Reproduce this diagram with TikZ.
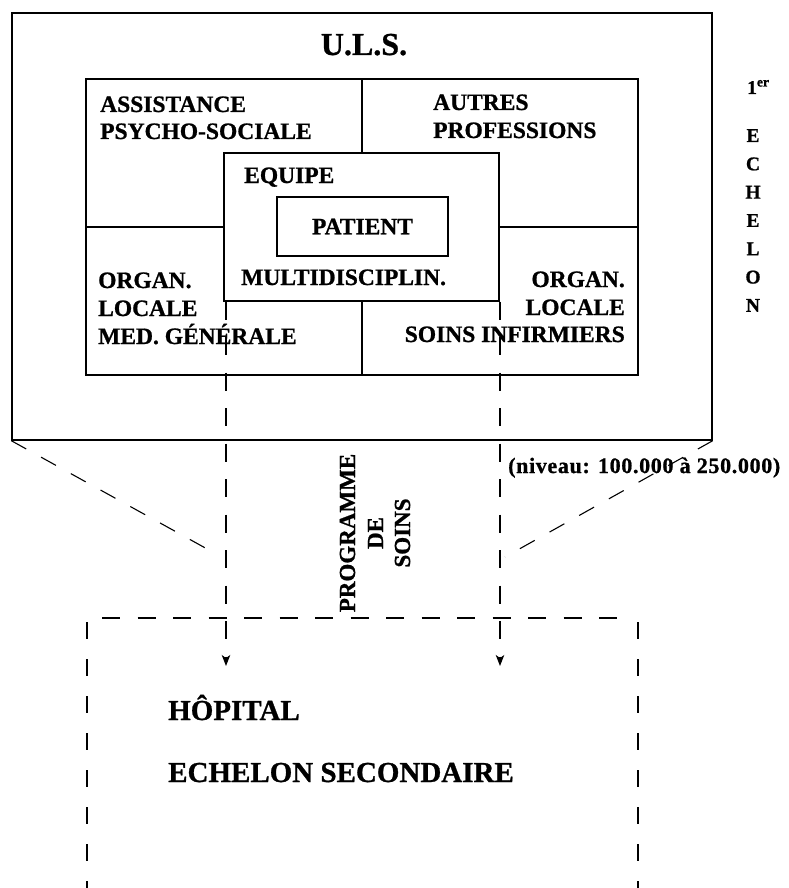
\documentclass[tikz,border=0pt]{standalone}
\usepackage{fontspec}
\setmainfont[BoldFeatures={FakeBold=0.9}]{Liberation Serif}
\usetikzlibrary{arrows.meta}
\begin{document}
\begin{tikzpicture}[x=1pt,y=-1pt,
  box/.style={draw, line width=1.4pt, inner sep=0pt, rectangle},
  lbl/.style={inner sep=0pt, font=\bfseries\fontsize{23.5}{28}\selectfont},
  title/.style={inner sep=0pt, font=\bfseries\fontsize{32}{36}\selectfont},
  side/.style={inner sep=0pt, font=\bfseries\fontsize{19.5}{22}\selectfont},
  note/.style={inner sep=0pt, font=\bfseries\fontsize{22}{24}\selectfont},
  rot/.style={inner sep=0pt, rotate=90, font=\bfseries\fontsize{23}{26}\selectfont},
  big/.style={inner sep=0pt, font=\bfseries\fontsize{29}{32}\selectfont},
  dline/.style={line width=1.1pt, dash pattern=on 18pt off 17.5pt},
  dline2/.style={line width=1.1pt, dash pattern=on 17pt off 17pt},
  dline3/.style={line width=1.1pt, dash pattern=on 18pt off 17.5pt},
  dline4/.style={line width=1.1pt, dash pattern=on 17pt off 20pt},
  tip/.style={-{Stealth[length=11pt, width=8.5pt, inset=3pt]}}
]
\useasboundingbox (0,0) rectangle (788,888);

% boxes
\node[box, minimum width=700pt, minimum height=427pt] (uls) at (362,226.5) {};
\node[box, minimum width=552pt, minimum height=296pt] (grid) at (362,227) {};
\draw[line width=1.4pt] (grid.north) -- (grid.south);
\draw[line width=1.4pt] (grid.west) -- (grid.east);
\node[box, fill=white, minimum width=275pt, minimum height=148pt] (equipe) at (361.5,227) {};
\node[box, minimum width=171pt, minimum height=59pt] (patient) at (362.5,226.5) {};

% texts
\node[title, anchor=base] (tuls) at (364,55) {U.L.S.};
\node[lbl, anchor=base west] (t1) at (100,112) {ASSISTANCE};
\node[lbl, anchor=base west] (t2) at (100,139) {PSYCHO-SOCIALE};
\node[lbl, anchor=base west] (t3) at (433,110) {AUTRES};
\node[lbl, anchor=base west] (t4) at (433,138) {PROFESSIONS};
\node[lbl, anchor=base west] (t5) at (244,183) {EQUIPE};
\node[lbl] (t6) at (patient.center) {PATIENT};
\node[lbl, anchor=base west] (t7) at (241,285) {MULTIDISCIPLIN.};
\node[lbl, anchor=base west] (t8) at (98,288) {ORGAN.};
\node[lbl, anchor=base west] (t9) at (98,316) {LOCALE};
\node[lbl, anchor=base west] (t10) at (98,344) {MED. GÉNÉRALE};
\node[lbl, anchor=base east] (t11) at (625,287) {ORGAN.};
\node[lbl, anchor=base east] (t12) at (625,315) {LOCALE};
\node[lbl, anchor=base east] (t13) at (625,342) {SOINS INFIRMIERS};

% right side
\node[side, anchor=base west] (er) at (747,94) {1\textsuperscript{er}};
\foreach \l [count=\i] in {E,C,H,E,L,O,N} {
  \node[side, anchor=base] (ech\i) at (753,{142+28.3*(\i-1)}) {\l};
}

\node[note, anchor=base west] (niv) at (508,473) {\addfontfeature{LetterSpace=3}(niveau: 100.000 à 250.000)};

% programme de soins
\node[rot, anchor=base] (p1) at (355,533) {PROGRAMME};
\node[rot, anchor=base] (p2) at (383,533) {DE};
\node[rot, anchor=base] (p3) at (410,533) {SOINS};

% hospital
\node[big, anchor=base west] (h1) at (168,720) {HÔPITAL};
\node[big, anchor=base west] (h2) at (168,782) {ECHELON SECONDAIRE};

% connectors
\coordinate (aL) at (226,666);
\coordinate (aR) at (500,666);
\draw[dline, tip] (aL |- equipe.south) -- (aL);
\draw[dline, tip] (aR |- equipe.south) -- (aR);

\coordinate (dL) at (218,555);
\coordinate (dR) at (505,557);
\draw[dline2] (uls.south west) -- (dL);
\draw[dline2] (uls.south east) -- (dR);

% lower dashed frame
\coordinate (hTL) at (102,618);
\coordinate (hTR) at (623,618);
\coordinate (hL1) at (87,622);
\coordinate (hL2) at (87,888);
\coordinate (hR1) at (638,622);
\coordinate (hR2) at (638,888);
\draw[dline3] (hTL) -- (hTR);
\draw[dline4] (hL1) -- (hL2);
\draw[dline4] (hR1) -- (hR2);
\end{tikzpicture}
\end{document}
